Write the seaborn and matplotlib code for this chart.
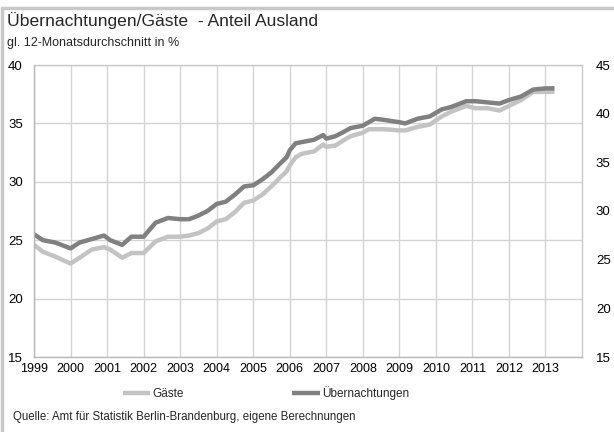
import matplotlib
matplotlib.use("Agg")
import matplotlib.pyplot as plt
from matplotlib.lines import Line2D
import pandas as pd
import seaborn as sns

# Monthly reference points (12-month moving average, share of foreign visitors in %)
months = [
    "1999-01", "1999-04", "1999-08", "2000-01", "2000-04", "2000-08", "2000-12",
    "2001-02", "2001-06", "2001-09", "2002-01", "2002-05", "2002-09", "2003-01",
    "2003-04", "2003-07", "2003-10", "2004-01", "2004-04", "2004-07", "2004-10",
    "2005-01", "2005-04", "2005-07", "2005-10", "2005-12", "2006-01", "2006-03",
    "2006-05", "2006-09", "2006-12", "2007-01", "2007-04", "2007-07", "2007-09",
    "2008-01", "2008-03", "2008-05", "2008-08", "2009-01", "2009-03", "2009-07",
    "2009-11", "2010-03", "2010-06", "2010-11", "2011-02", "2011-06", "2011-10",
    "2012-01", "2012-05", "2012-09", "2013-01", "2013-04",
]
gaeste = [
    24.6, 24.0, 23.6, 23.0, 23.5, 24.2, 24.4,
    24.2, 23.5, 23.9, 23.9, 24.9, 25.3, 25.3,
    25.4, 25.6, 26.0, 26.6, 26.8, 27.4, 28.2,
    28.4, 28.9, 29.6, 30.4, 30.9, 31.4, 32.1,
    32.4, 32.6, 33.2, 33.0, 33.1, 33.6, 33.9,
    34.2, 34.5, 34.5, 34.5, 34.4, 34.4, 34.7,
    34.9, 35.6, 36.0, 36.5, 36.3, 36.3, 36.1,
    36.5, 37.0, 37.7, 37.7, 37.7,
]
uebernachtungen = [
    25.5, 25.0, 24.8, 24.3, 24.8, 25.1, 25.4,
    25.0, 24.6, 25.3, 25.3, 26.5, 26.9, 26.8,
    26.8, 27.1, 27.5, 28.1, 28.3, 28.9, 29.6,
    29.7, 30.2, 30.8, 31.6, 32.1, 32.7, 33.3,
    33.4, 33.6, 34.0, 33.7, 33.9, 34.3, 34.6,
    34.8, 35.1, 35.4, 35.3, 35.1, 35.0, 35.4,
    35.6, 36.2, 36.4, 36.9, 36.9, 36.8, 36.7,
    37.0, 37.3, 37.9, 38.0, 38.0,
]
series_names = ["Gäste", "Übernachtungen"]
series_colors = ["#c3c3c3", "#808080"]
year_labels = [str(y) for y in range(1999, 2014)]
left_ticks = [15, 20, 25, 30, 35, 40]
right_ticks = [15, 20, 25, 30, 35, 40, 45]

df = pd.DataFrame({"Monat": pd.to_datetime(months),
                   series_names[0]: gaeste,
                   series_names[1]: uebernachtungen})
long = df.melt(id_vars="Monat", var_name="Reihe", value_name="Anteil")

sns.set_theme(style="white")
plt.rcParams["font.family"] = ["Liberation Sans", "DejaVu Sans"]

fig = plt.figure(figsize=(6.14, 4.32), dpi=100)
W, H = 614, 432
ax = fig.add_axes([34 / W, 1 - 357 / H, (582 - 34) / W, (357 - 65) / H])

sns.lineplot(data=long, x="Monat", y="Anteil", hue="Reihe",
             palette=dict(zip(series_names, series_colors)),
             linewidth=3.2, ax=ax, legend=False)
for ln in ax.get_lines():
    ln.set_solid_capstyle("butt")
    ln.set_solid_joinstyle("round")

ax.set_xlim(pd.Timestamp("1999-01-01"), pd.Timestamp("2014-01-01"))
ax.set_ylim(15, 40)
year_pos = [pd.Timestamp(f"{y}-01-01") for y in year_labels]
ax.set_xticks(year_pos)
ax.set_xticklabels(year_labels)
ax.set_yticks(left_ticks)
ax.set_xlabel("")
ax.set_ylabel("")
ax.grid(True, color="#d4d4d4", linewidth=1.0)
ax.set_axisbelow(True)
for sp in ax.spines.values():
    sp.set_visible(True)
    sp.set_color("#c8c8c8")
    sp.set_linewidth(1.0)
ax.spines["left"].set_color("#b8b8b8")
ax.spines["bottom"].set_color("#b8b8b8")
ax.tick_params(axis="x", length=0, pad=4, labelsize=9, colors="#000000")
ax.tick_params(axis="y", length=0, pad=8, labelsize=9.5, colors="#000000")

ax2 = ax.twinx()
ax2.set_ylim(15, 45)
ax2.set_yticks(right_ticks)
ax2.tick_params(axis="y", length=0, pad=10, labelsize=9.5, colors="#000000")
for sp in ax2.spines.values():
    sp.set_visible(False)
ax2.grid(False)

# Legend below the plot
handles = [Line2D([0], [0], color=c, linewidth=3.2, solid_capstyle="butt")
           for c in series_colors]
fig.legend(handles, series_names, loc="center", ncol=2,
           bbox_to_anchor=(266 / W, 1 - 393 / H), frameon=False,
           fontsize=8.5, handlelength=2.3, handletextpad=0.2,
           columnspacing=9.2)

fig.text(7 / W, 1 - 21 / H, "Übernachtungen/Gäste  - Anteil Ausland",
         fontsize=12.6, va="center", ha="left")
fig.text(7 / W, 1 - 43 / H, "gl. 12-Monatsdurchschnitt in %",
         fontsize=9.0, va="center", ha="left")
fig.text(13 / W, 1 - 417 / H,
         "Quelle: Amt für Statistik Berlin-Brandenburg, eigene Berechnungen",
         fontsize=8.3, va="center", ha="left")

# Outer frame (top and left edges)
frame_col = "#c8c8c8"
fig.add_artist(Line2D([2 / W, 1.0], [1 - 8 / H, 1 - 8 / H],
                      transform=fig.transFigure, color=frame_col, linewidth=2.5))
fig.add_artist(Line2D([2 / W, 2 / W], [0.0, 1 - 8 / H],
                      transform=fig.transFigure, color=frame_col, linewidth=2.5))

fig.savefig("out.png", dpi=100, facecolor="white")
